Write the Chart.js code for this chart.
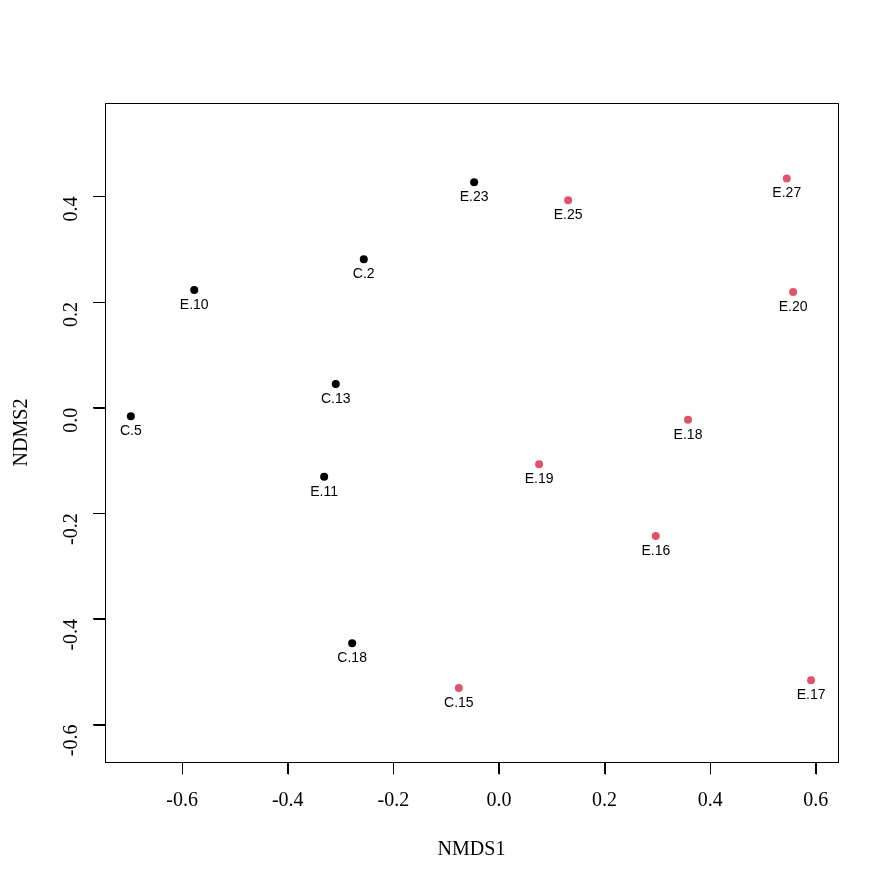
<!DOCTYPE html>
<html>
<head>
<meta charset="utf-8">
<script src="https://cdn.jsdelivr.net/npm/chart.js@4/dist/chart.umd.min.js"></script>
<style>
  html, body { margin: 0; padding: 0; background: #fff; }
  #wrap { width: 893px; height: 893px; }
</style>
</head>
<body>
<div id="wrap"><canvas id="chart"></canvas></div>
<script>
// site scores from the NMDS
var sites = ['C.5', 'E.10', 'C.2', 'C.13', 'E.11', 'C.18', 'E.23', 'C.15', 'E.25', 'E.19', 'E.16', 'E.18', 'E.27', 'E.20', 'E.17'];
var nmds1 = [-0.697, -0.577, -0.256, -0.309, -0.331, -0.278, -0.047, -0.076, 0.131, 0.076, 0.297, 0.358, 0.545, 0.557, 0.591];
var nmds2 = [-0.016, 0.223, 0.281, 0.045, -0.131, -0.446, 0.427, -0.531, 0.393, -0.107, -0.243, -0.023, 0.434, 0.219, -0.516];
var group = [1, 1, 1, 1, 1, 1, 1, 2, 2, 2, 2, 2, 2, 2, 2];
var xTicks = [-0.6, -0.4, -0.2, 0.0, 0.2, 0.4, 0.6];
var yTicks = [-0.6, -0.4, -0.2, 0.0, 0.2, 0.4];

var cols = { 1: '#000000', 2: '#DF536B' };
var pts = sites.map(function (s, i) { return { x: nmds1[i], y: nmds2[i] }; });

var serif = '"Liberation Serif", "Times New Roman", serif';

// box round the plot, tick marks, site names under the points
var boxAndLabels = {
    id: 'boxAndLabels',
    afterDatasetsDraw: function (chart) {
        var c = chart.ctx, a = chart.chartArea;
        var sx = chart.scales.x, sy = chart.scales.y;
        c.save();
        c.strokeStyle = '#000';
        c.lineWidth = 1;
        var L = Math.round(a.left) + 0.5, T = Math.round(a.top) + 0.5;
        var R = Math.round(a.right) + 0.5, B = Math.round(a.bottom) + 0.5;
        c.strokeRect(L, T, R - L, B - T);
        c.beginPath();
        xTicks.forEach(function (v) {
            var px = Math.round(sx.getPixelForValue(v)) + 0.5;
            c.moveTo(px, B); c.lineTo(px, B + 12);
        });
        yTicks.forEach(function (v) {
            var py = Math.round(sy.getPixelForValue(v)) + 0.5;
            c.moveTo(L, py); c.lineTo(L - 12, py);
        });
        c.stroke();
        c.fillStyle = '#000';
        c.font = '14px "Liberation Sans", Arial, sans-serif';
        c.textAlign = 'center';
        c.textBaseline = 'middle';
        chart.getDatasetMeta(0).data.forEach(function (p, i) {
            c.fillText(sites[i], p.x, p.y + 15);
        });
        c.restore();
    }
};

var ctx = document.getElementById('chart').getContext('2d');
var myChart = new Chart(ctx, {
    type: 'scatter',
    data: {
        datasets: [{
            data: pts,
            backgroundColor: group.map(function (g) { return cols[g]; }),
            borderWidth: 0,
            pointRadius: 4,
            pointHoverRadius: 4
        }]
    },
    options: {
        responsive: true,
        maintainAspectRatio: false,
        animation: false,
        events: [],
        layout: { padding: { top: 103, right: 55, left: 6, bottom: 27 } },
        plugins: { legend: { display: false }, tooltip: { enabled: false } },
        scales: {
            x: {
                type: 'linear',
                min: -0.746,
                max: 0.642,
                afterBuildTicks: function (s) { s.ticks = xTicks.map(function (v) { return { value: v }; }); },
                afterFit: function (s) { s.height = 893 - 762 - 27; },
                grid: { drawOnChartArea: false, drawTicks: true, tickLength: 12, color: '#000', lineWidth: 1 },
                border: { display: false },
                ticks: {
                    color: '#000',
                    font: { family: serif, size: 20 },
                    padding: 15,
                    maxRotation: 0,
                    callback: function (v) { return v.toFixed(1); }
                },
                title: {
                    display: true,
                    text: 'NMDS1',
                    color: '#000',
                    font: { family: serif, size: 20 },
                    padding: { top: 30 }
                }
            },
            y: {
                type: 'linear',
                min: -0.671,
                max: 0.577,
                afterBuildTicks: function (s) { s.ticks = yTicks.map(function (v) { return { value: v }; }); },
                afterFit: function (s) { s.width = 99; },
                grid: { drawOnChartArea: false, drawTicks: true, tickLength: 12, color: '#000', lineWidth: 1 },
                border: { display: false },
                ticks: {
                    color: '#000',
                    font: { family: serif, size: 20 },
                    padding: 21,
                    minRotation: 90,
                    maxRotation: 90,
                    callback: function (v) { return v.toFixed(1); }
                },
                title: {
                    display: true,
                    text: 'NDMS2',
                    color: '#000',
                    font: { family: serif, size: 20 },
                    padding: { bottom: 30 }
                }
            }
        }
    },
    plugins: [boxAndLabels]
});
</script>
</body>
</html>
